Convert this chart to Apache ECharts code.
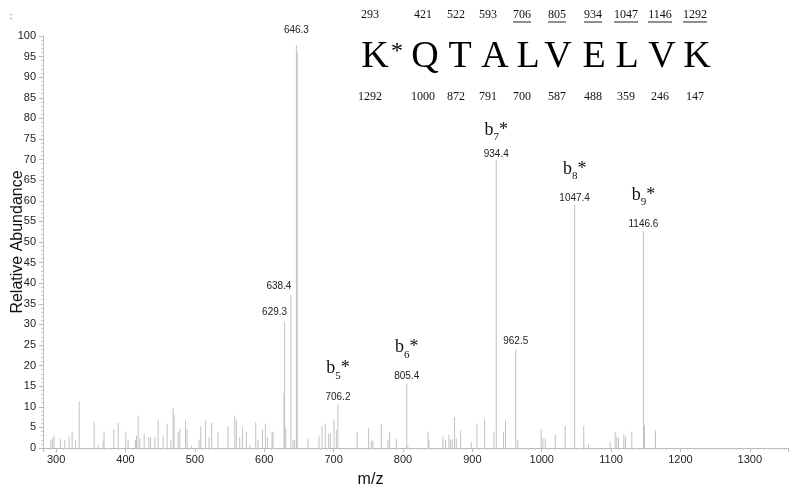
<!DOCTYPE html>
<html><head><meta charset="utf-8">
<script src="https://cdn.jsdelivr.net/npm/echarts@6/dist/echarts.min.js"></script>
<style>html,body{margin:0;padding:0;background:#fff}#c{width:800px;height:493px}</style>
</head><body><div id="c"></div>
<script>
// ---- data ----
const peakMz = [292.4,294.8,297,306,312.5,318.7,323,328,333.2,354.7,360.5,367.7,369,383,389.3,400.4,403.7,414.3,415.8,418.1,420.6,426.8,433.5,436,442.2,447,454.2,460,465.3,468.6,470,475.8,478.2,486.4,488.7,495,506,508.4,515.2,520.4,524.3,533.4,547.8,557.4,559.8,564.6,568.5,574.2,579,587.7,591,597.3,601.6,604.5,611.2,612.6,628.4,629.3,631,638.4,641.4,643.8,646.3,647.5,663,678.9,683.2,688,692.8,695.3,700.5,703.9,706.2,733.9,750.4,754.3,756.6,768.7,778.3,780.7,790.3,805.4,807,836,837.4,857.5,861.4,866.2,868.6,871,874.3,876.8,883,898.4,906.5,917.6,931,934.4,945,947.8,962.5,965.5,999.2,1001.6,1005,1019.4,1033.8,1047.4,1060.6,1067.4,1098.6,1105.8,1108.2,1110.6,1118.3,1120.7,1129.8,1146.6,1148,1163.9];
const peakInt = [2.0,2.4,3.0,2.3,2.0,2.8,4.0,1.8,11.3,6.3,0.8,1.8,4.0,4.5,6.1,4.0,2.0,2.0,3.0,7.8,2.4,3.5,2.6,2.6,2.7,6.9,3.0,5.9,1.8,9.7,8.1,3.8,4.7,6.7,4.5,0.4,2.0,5.3,6.6,2.7,6.1,3.9,5.3,7.8,6.7,2.6,5.0,4.0,0.8,6.2,2.0,4.5,5.9,2.7,4.0,3.8,13.3,30.7,4.9,37.1,2.0,2.0,97.8,96.0,2.3,2.8,5.3,5.9,3.6,3.5,6.9,4.5,10.5,3.9,4.9,1.8,1.8,5.8,2.0,3.8,2.3,15.6,0.4,4.0,2.0,2.8,2.0,3.2,2.0,2.2,7.5,2.3,4.3,1.5,5.9,6.9,4.0,69.9,4.0,6.7,23.8,2.0,4.6,2.4,2.3,3.2,5.4,59.0,5.4,1.0,1.6,3.8,2.8,2.4,3.2,2.8,4.0,52.7,5.6,4.3];
const labeledMz = [629.3, 638.4, 646.3, 706.2, 805.4, 934.4, 962.5, 1047.4, 1146.6];
const bIonMz = [706.2, 805.4, 934.4, 1047.4, 1146.6];
const bIonNum = ['5', '6', '7', '8', '9'];
const xTickLabels = [300, 400, 500, 600, 700, 800, 900, 1000, 1100, 1200, 1300];
const yTickLabels = [0, 5, 10, 15, 20, 25, 30, 35, 40, 45, 50, 55, 60, 65, 70, 75, 80, 85, 90, 95, 100];
const residues = ['K', 'Q', 'T', 'A', 'L', 'V', 'E', 'L', 'V', 'K'];
const bLadder = [293, 421, 522, 593, 706, 805, 934, 1047, 1146, 1292];
const yLadder = [1292, 1000, 872, 791, 700, 587, 488, 359, 246, 147];
const bObserved = [706, 805, 934, 1047, 1146, 1292];

// ---- layout (not data) ----
const numX = [370, 423, 456, 488, 522, 557, 593, 626, 660, 695];
const letX = [375, 425, 460, 495, 528, 558, 594, 627, 662, 697];
const leftShift = {629.3: -10, 638.4: -12};

const serif = '"Liberation Serif","DejaVu Serif",serif';
const sans = '"Liberation Sans",Arial,sans-serif';

const data = peakMz.map((m, i) => {
  const item = { value: [m, peakInt[i]] };
  if (labeledMz.includes(m)) {
    const bi = bIonMz.indexOf(m);
    const txt = m.toFixed(1);
    if (bi >= 0) {
      const tight = (m === 934.4);
      item.label = { show: true, position: 'top', distance: 0, offset: [0, tight ? 5 : 9],
        formatter: '{b|b}{s|' + bIonNum[bi] + '}{b|*}\n{' + (tight ? 'vt' : 'vb') + '|' + txt + '}' };
    } else {
      item.label = { show: true, position: 'top', distance: 2,
        offset: [leftShift[m] || 0, m === 646.3 ? -6 : 0],
        formatter: '{v|' + txt + '}' };
    }
  }
  return item;
});

const graphic = [];
graphic.push({ type: 'text', x: 11, y: 17, style: { text: ':', font: '9px ' + sans, fill: '#333', align: 'center', verticalAlign: 'middle' } });
residues.forEach((r, i) => {
  graphic.push({ type: 'text', x: numX[i], y: 15, style: { text: String(bLadder[i]), font: '12px ' + serif, fill: '#111', align: 'center', verticalAlign: 'middle' } });
  graphic.push({ type: 'text', x: letX[i], y: 57, style: { text: r, font: '38px ' + serif, fill: '#000', align: 'center', verticalAlign: 'middle' } });
  graphic.push({ type: 'text', x: numX[i], y: 97, style: { text: String(yLadder[i]), font: '12px ' + serif, fill: '#111', align: 'center', verticalAlign: 'middle' } });
  if (bObserved.includes(bLadder[i])) {
    const w = String(bLadder[i]).length * 6;
    graphic.push({ type: 'line', shape: { x1: numX[i] - w / 2, y1: 22, x2: numX[i] + w / 2, y2: 22 }, style: { stroke: '#222', lineWidth: 1 } });
  }
});
graphic.push({ type: 'text', x: 397, y: 52, style: { text: '*', font: '24px ' + serif, fill: '#000', align: 'center', verticalAlign: 'middle' } });

const chart = echarts.init(document.getElementById('c'), null, { renderer: 'canvas' });
chart.setOption({
  animation: false,
  backgroundColor: '#fff',
  grid: { left: 43, right: 12, top: 36, bottom: 45, containLabel: false, outerBoundsMode: 'none' },
  xAxis: {
    type: 'value', min: 281, max: 1355, splitNumber: 10,
    name: 'm/z', nameLocation: 'middle', nameGap: 24, nameMoveOverlap: false,
    nameTextStyle: { fontFamily: sans, fontSize: 16, color: '#111', padding: [0, 90, 0, 0] },
    axisLine: { lineStyle: { color: '#bbb' } },
    axisTick: { show: true, length: 4, lineStyle: { color: '#bbb' } },
    minorTick: { show: true, splitNumber: 10, length: 2, lineStyle: { color: '#ccc' } },
    splitLine: { show: false },
    axisLabel: { showMinLabel: false, showMaxLabel: false, margin: 6, fontFamily: sans, fontSize: 11, color: '#222',
      formatter: v => xTickLabels.includes(v) ? String(v) : '' }
  },
  yAxis: {
    type: 'value', min: 0, max: 100, interval: 5,
    name: 'Relative Abundance', nameLocation: 'middle', nameGap: 17, nameMoveOverlap: false,
    nameTextStyle: { fontFamily: sans, fontSize: 16, color: '#111' },
    axisLine: { show: true, lineStyle: { color: '#bbb' } },
    axisTick: { show: true, length: 4, lineStyle: { color: '#bbb' } },
    minorTick: { show: true, splitNumber: 5, length: 2, lineStyle: { color: '#ccc' } },
    splitLine: { show: false },
    axisLabel: { margin: 7, fontFamily: sans, fontSize: 11, color: '#222',
      formatter: v => yTickLabels.includes(v) ? String(v) : '' }
  },
  series: [{
    type: 'bar', barWidth: 1, data: data,
    itemStyle: { color: '#c2c2c2' },
    label: { show: false,
      rich: {
        v: { fontFamily: sans, fontSize: 10, color: '#222', lineHeight: 14 },
        vb: { fontFamily: sans, fontSize: 10, color: '#222', lineHeight: 32, verticalAlign: 'middle' },
        vt: { fontFamily: sans, fontSize: 10, color: '#222', lineHeight: 22, verticalAlign: 'middle' },
        b: { fontFamily: serif, fontSize: 18, color: '#111', lineHeight: 26, verticalAlign: 'middle' },
        s: { fontFamily: serif, fontSize: 11, color: '#111', lineHeight: 14, verticalAlign: 'bottom' }
      }
    },
    emphasis: { disabled: true }
  }],
  graphic: graphic
});
</script></body></html>
